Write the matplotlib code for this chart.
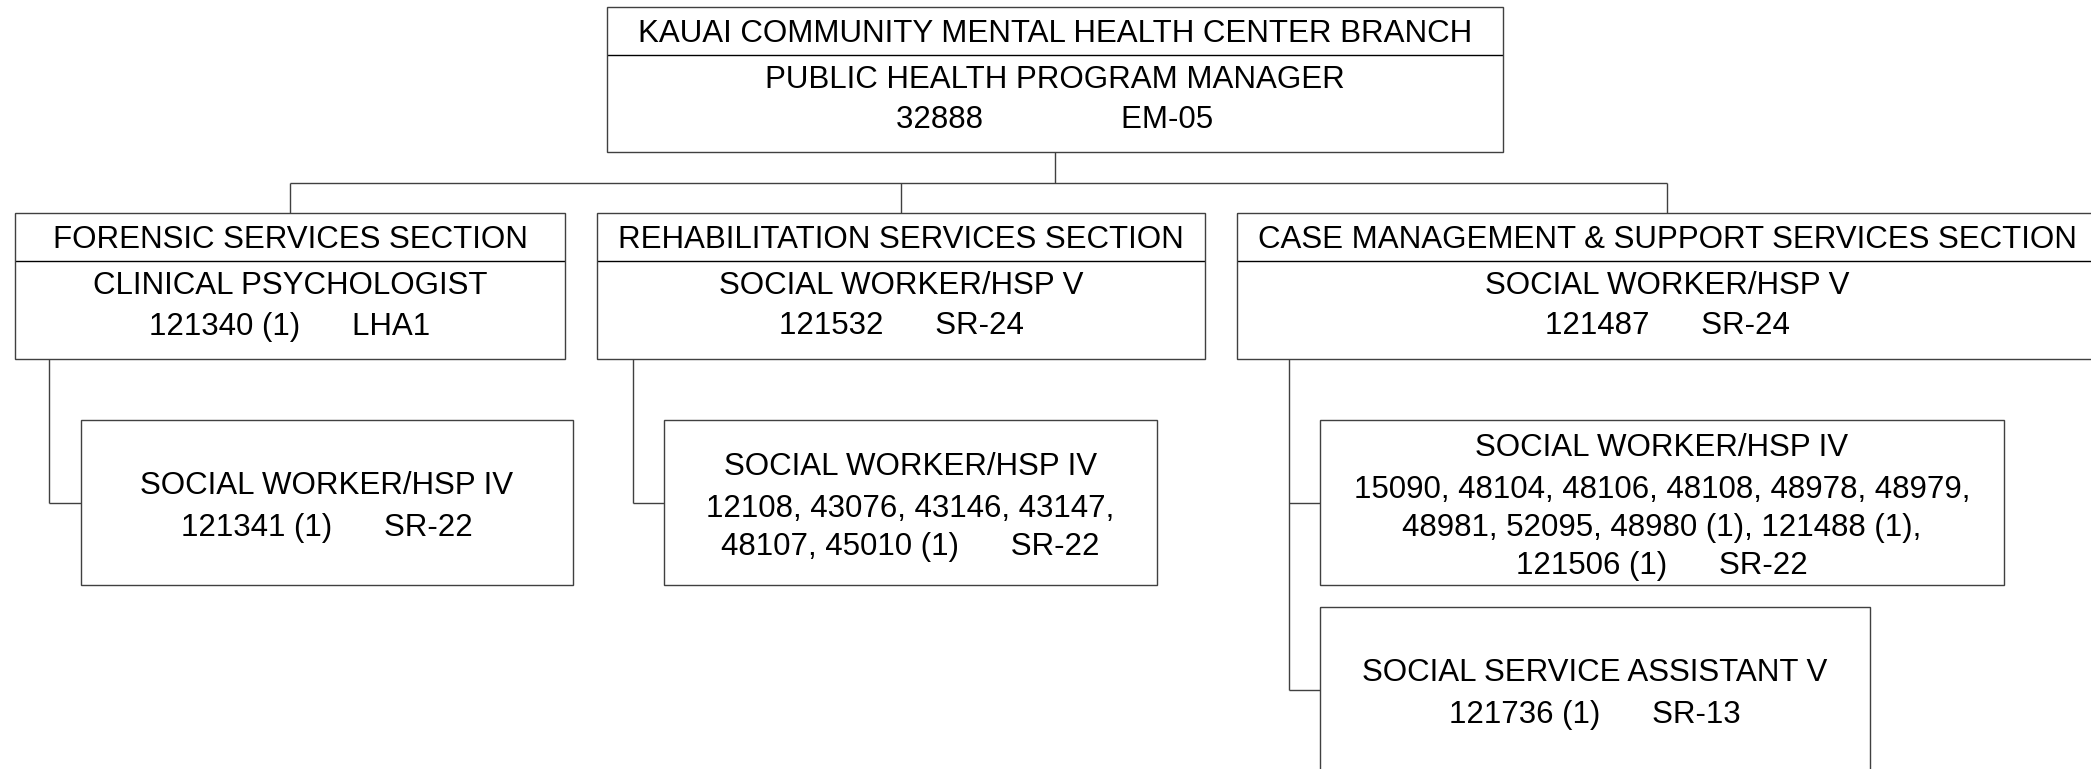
import matplotlib
matplotlib.use("Agg")
import matplotlib.pyplot as plt
from matplotlib.patches import Rectangle

plt.rcParams['font.family'] = ['Liberation Sans', 'DejaVu Sans']

# ---------------- content ----------------
top_title = "KAUAI COMMUNITY MENTAL HEALTH CENTER BRANCH"
top_lines = ["PUBLIC HEALTH PROGRAM MANAGER", "32888                EM-05"]

section_titles = ["FORENSIC SERVICES SECTION",
                  "REHABILITATION SERVICES SECTION",
                  "CASE MANAGEMENT & SUPPORT SERVICES SECTION"]
section_lines = [["CLINICAL PSYCHOLOGIST", "121340 (1)      LHA1"],
                 ["SOCIAL WORKER/HSP V", "121532      SR-24"],
                 ["SOCIAL WORKER/HSP V", "121487      SR-24"]]

child_lines = [
    [["SOCIAL WORKER/HSP IV", "121341 (1)      SR-22"]],
    [["SOCIAL WORKER/HSP IV", "12108, 43076, 43146, 43147,",
      "48107, 45010 (1)      SR-22"]],
    [["SOCIAL WORKER/HSP IV", "15090, 48104, 48106, 48108, 48978, 48979,",
      "48981, 52095, 48980 (1), 121488 (1),", "121506 (1)      SR-22"],
     ["SOCIAL SERVICE ASSISTANT V", "121736 (1)      SR-13"]],
]

# ---------------- layout (pixels) ----------------
W, H = 2091, 769
top_box = (607, 7, 1503, 152)          # x0, y0, x1, y1
top_div = 55
bus_y = 183
sec_y0, sec_y1, sec_div = 213, 359, 261
sec_x = [(15, 565), (597, 1205), (1237, 2097)]
conn_x = [49, 633, 1289]
child_boxes = [
    [(81, 420, 573, 585)],
    [(664, 420, 1157, 585)],
    [(1320, 420, 2004, 585), (1320, 607, 1870, 772)],
]

FS = 22.5
BORDER = '#404040'
LW = 1.0

fig = plt.figure(figsize=(W / 100, H / 100), dpi=100)
ax = fig.add_axes([0, 0, 1, 1])
ax.set_xlim(0, W)
ax.set_ylim(H, 0)
ax.axis('off')


def box(x0, y0, x1, y1):
    ax.add_patch(Rectangle((x0, y0), x1 - x0, y1 - y0, fill=False,
                           edgecolor=BORDER, linewidth=LW, zorder=2))


def line(xs, ys, color=BORDER):
    ax.plot(xs, ys, color=color, linewidth=LW, solid_capstyle='butt', zorder=1)


def txt(x, y, s):
    ax.text(x, y, s, ha='center', va='center_baseline', fontsize=FS, color='black')


# top box
x0, y0, x1, y1 = top_box
box(*top_box)
line([x0, x1], [top_div, top_div], 'black')
cx = (x0 + x1) / 2
txt(cx, (y0 + top_div) / 2, top_title)
for i, s in enumerate(top_lines):
    txt(cx, top_div + 21 + 41 * i, s)

# connectors from top box to sections
sec_centers = [(a + b) / 2 for a, b in sec_x]
line([cx, cx], [y1, bus_y])
line([sec_centers[0], sec_centers[-1]], [bus_y, bus_y])
for c in sec_centers:
    line([c, c], [bus_y, sec_y0])

# section boxes
for i, (a, b) in enumerate(sec_x):
    box(a, sec_y0, b, sec_y1)
    line([a, b], [sec_div, sec_div], 'black')
    c = (a + b) / 2
    txt(c, (sec_y0 + sec_div) / 2, section_titles[i])
    for j, s in enumerate(section_lines[i]):
        txt(c, sec_div + 22 + 40 * j, s)

# children
for i, kids in enumerate(child_lines):
    boxes = child_boxes[i]
    mids = [(b[1] + b[3]) / 2 for b in boxes]
    line([conn_x[i], conn_x[i]], [sec_y1, mids[-1]])
    for lines_, (bx0, by0, bx1, by1), my in zip(kids, boxes, mids):
        line([conn_x[i], bx0], [my, my])
        box(bx0, by0, bx1, by1)
        n = len(lines_)
        gaps = [42] + [38] * (n - 2)
        total = sum(gaps)
        y = my - total / 2 + 1
        c = (bx0 + bx1) / 2
        for k, s in enumerate(lines_):
            txt(c, y, s)
            if k < n - 1:
                y += gaps[k]

fig.savefig("out.png", dpi=100)
